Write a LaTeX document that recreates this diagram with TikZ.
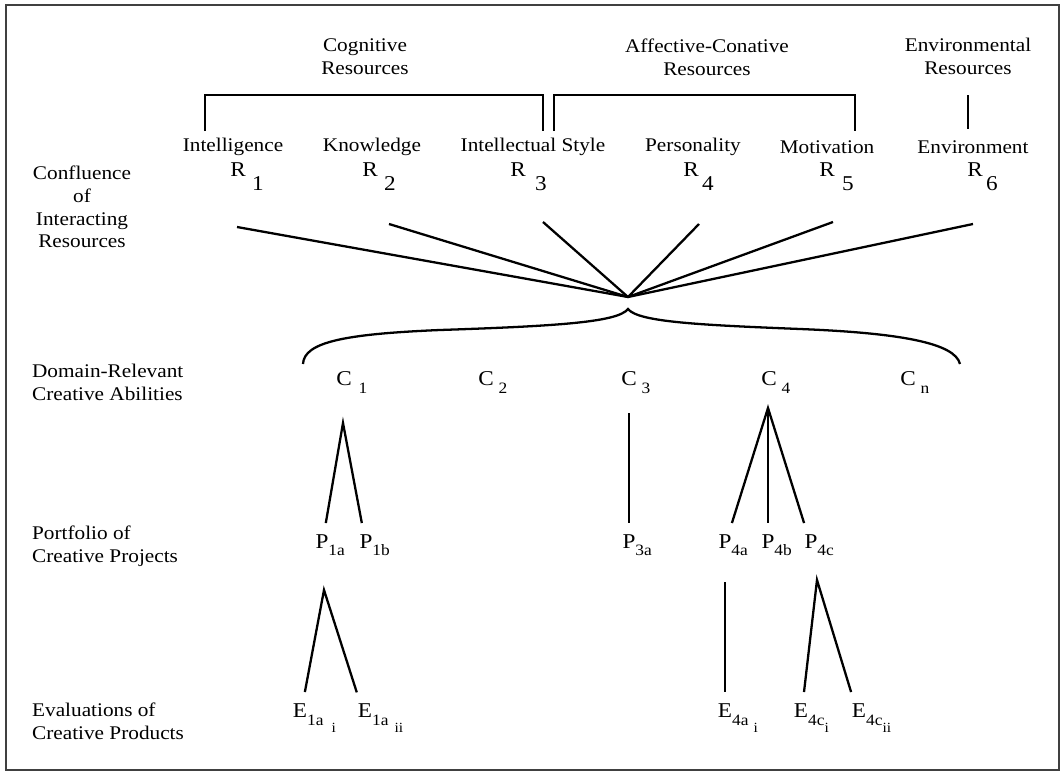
\documentclass[tikz,border=0pt]{standalone}
\usepackage{fontspec}
\setmainfont{Liberation Serif}[FakeStretch=1.1]
\usepackage{tikz}
% lowered indices as the figure sets them
\newcommand{\rsub}[2][1.3mm]{\rlap{\hspace{#1}\raisebox{-8.5pt}{#2}}}
\newcommand{\csub}[2][1mm]{\rlap{\hspace{#1}\raisebox{-5pt}{\small #2}}}
\newcommand{\psub}[1]{\rlap{\raisebox{-4.5pt}{\small #1}}}
\newcommand{\esub}[3][0pt]{\rlap{\raisebox{-5pt}{\small #2\hspace{#1}\raisebox{-4pt}{\footnotesize #3}}}}

\begin{document}
\begin{tikzpicture}[x=0.2mm,y=-0.2mm,font=\fontsize{11}{13}\selectfont,line width=1.3pt]
\tikzstyle{sym}=[inner xsep=0pt,inner ysep=2mm,anchor=base,font=\fontsize{12}{13}\selectfont]
\tikzstyle{hd}=[align=center,inner sep=0pt]
\tikzstyle{side}=[align=left,anchor=west,inner sep=0pt]
\useasboundingbox (0,0) rectangle (1063,776);
\draw[black!75,line width=1.1pt] (6,5) rectangle (1059,770);

% resource groups
\node[hd] (cog) at (365,57) {Cognitive\\Resources};
\node[hd] (aff) at (707,57) {Affective-Conative\\Resources};
\node[hd] (env) at (968,56) {Environmental\\Resources};
\draw (205,131) |- (543,95) -- (543,131);
\draw (554,131) |- (855,95) -- (855,131);
\draw (968,95) -- (968,129);

% resources
\node (int) at (233,147) {Intelligence};
\node (know) at (372,147) {Knowledge};
\node (isty) at (533,147) {Intellectual Style};
\node (pers) at (693,147) {Personality};
\node (mot) at (827,147) {Motivation};
\node (envr) at (973,147) {Environment};
\node[sym] (r1) at (238,176) {R\rsub{1}};
\node[sym] (r2) at (370,176) {R\rsub{2}};
\node[sym] (r3) at (518,176) {R\rsub[1.9mm]{3}};
\node[sym] (r4) at (691,176) {R\rsub[0.7mm]{4}};
\node[sym] (r5) at (827,176) {R\rsub[1.5mm]{5}};
\node[sym] (r6) at (975,176) {R\rsub[0.7mm]{6}};

\node[hd] (confl) at (82,207) {Confluence\\of\\Interacting\\Resources};
\coordinate (hub) at (628,297);
\coordinate (s1) at (237,227);
\coordinate (s2) at (389,224);
\coordinate (s3) at (543,222);
\coordinate (s4) at (699,224);
\coordinate (s5) at (833,222);
\coordinate (s6) at (973,224);
\foreach \s in {s1,s2,s3,s4,s5,s6} \draw (\s) -- (hub);

% creative abilities
\coordinate (btip) at (628,309);
\draw (303,364) .. controls (304,342) and (345,334) .. (440,330)
  .. controls (560,326) and (618,322) .. (btip)
  .. controls (638,322) and (700,325) .. (800,329)
  .. controls (900,333) and (955,343) .. (960,364);
\node[side] (dom) at (31,382) {Domain-Relevant\\Creative Abilities};
\node[sym] (c1) at (344,385) {C\csub[1.4mm]{1}};
\node[sym] (c2) at (486,385) {C\csub{2}};
\node[sym] (c3) at (629,385) {C\csub{3}};
\node[sym] (c4) at (769,385) {C\csub{4}};
\node[sym] (cn) at (908,385) {C\csub{n}};

% projects
\node[side] (port) at (31,546) {Portfolio of\\Creative Projects};
\node[sym] (p1a) at (322,548) {P\psub{1a}};
\node[sym] (p1b) at (366,548) {P\psub{1b}};
\node[sym] (p3a) at (629,548) {P\psub{3a}};
\node[sym] (p4a) at (725,548) {P\psub{4a}};
\node[sym] (p4b) at (768,548) {P\psub{4b}};
\node[sym] (p4c) at (811,548) {P\psub{4c}};
\coordinate (c1t) at (343,423);
\coordinate (c4t) at (768,408);
\draw (p1a) -- (c1t) -- (p1b);
\draw[shorten <=1.6mm] (c3) -- (p3a);
\draw (p4a) -- (c4t) -- (p4c);
\draw (c4t) -- (p4b);

% evaluations
\node[side] (eval) at (31,721) {Evaluations of\\Creative Products};
\node[sym] (e1a) at (300,717) {E\esub[1.6mm]{1a}{i}};
\node[sym] (e1b) at (365,717) {E\esub[1.2mm]{1a}{ii}};
\node[sym] (e4a) at (725,717) {E\esub[1mm]{4a}{i}};
\node[sym] (e4ci) at (801,717) {E\esub{4c}{i}};
\node[sym] (e4cii) at (859,717) {E\esub{4c}{ii}};
\coordinate (p1t) at (324,590);
\coordinate (p4t) at (817,580);
\draw (e1a) -- (p1t) -- (e1b);
\draw[shorten <=3mm] (p4a) -- (e4a);
\draw (e4ci) -- (p4t) -- (e4cii);
\end{tikzpicture}
\end{document}
